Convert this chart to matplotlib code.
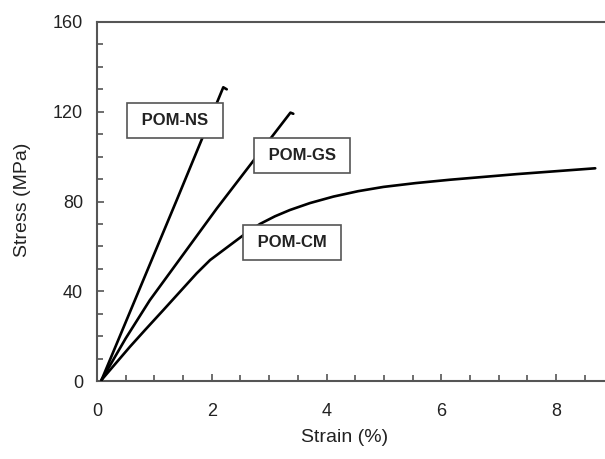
import matplotlib
matplotlib.use("Agg")
import matplotlib.pyplot as plt
from matplotlib.ticker import MultipleLocator

plt.rcParams['font.family'] = ['Liberation Sans', 'DejaVu Sans']

ns_x = [0.08, 1.39, 2.20, 2.26]
ns_y = [0.5, 80.7, 130.9, 130.0]

gs_x = [0.08, 0.50, 0.92, 2.09, 2.75, 3.37, 3.42]
gs_y = [0.5, 19.0, 36.0, 77.0, 99.0, 119.6, 119.1]

cm_x = [0.08, 0.575, 0.836, 1.155, 1.446, 1.737, 1.97, 2.085, 2.32, 2.55, 2.84, 3.10,
        3.36, 3.71, 4.12, 4.55, 4.99, 5.55, 6.15, 7.31, 8.68]
cm_y = [0.5, 15.3, 22.7, 31.6, 39.8, 48.0, 53.9, 56.1, 60.6, 65.0, 70.0, 73.4,
        76.2, 79.3, 82.2, 84.6, 86.5, 88.2, 89.7, 92.2, 94.8]

labels = ["POM-NS", "POM-GS", "POM-CM"]
label_pos = [(1.36, 116.0), (3.57, 100.7), (3.40, 61.9)]

W, H = 605, 459
fig = plt.figure(figsize=(W / 100, H / 100), dpi=100)
ax = fig.add_axes([97 / W, 78 / H, 508 / W, 359 / H])

for xs, ys in [(ns_x, ns_y), (gs_x, gs_y), (cm_x, cm_y)]:
    ax.plot(xs, ys, color='black', lw=1.9, solid_capstyle='round',
            solid_joinstyle='round', zorder=3)

for lab, (lx, ly) in zip(labels, label_pos):
    ax.text(lx, ly, " " + lab + " ", ha='center', va='center', fontsize=12,
            fontweight='bold', color='#222222', zorder=5,
            bbox=dict(boxstyle='square,pad=0.6', fc='white', ec='#555555', lw=1.2))

ax.set_xlim(0, 508 / 57.4)
ax.set_ylim(0, 160)
ax.xaxis.set_major_locator(MultipleLocator(2))
ax.xaxis.set_minor_locator(MultipleLocator(0.5))
ax.yaxis.set_major_locator(MultipleLocator(40))
ax.yaxis.set_minor_locator(MultipleLocator(10))

for s in ax.spines.values():
    s.set_color('#555555')
    s.set_linewidth(1.5)
ax.spines['right'].set_visible(False)

ax.tick_params(which='both', direction='in', colors='#555555', labelcolor='#222222',
               labelsize=13, width=1.2, top=False, right=False)
ax.tick_params(axis='x', which='both', pad=16)
ax.tick_params(axis='y', which='both', pad=10)
ax.tick_params(which='major', length=5)
ax.tick_params(which='minor', length=4)

ax.set_xlabel("Strain (%)", fontsize=14, color='#222222')
ax.set_ylabel("Stress (MPa)", fontsize=14, color='#222222')
ax.xaxis.set_label_coords((345 - 97) / 508, -(429 - 381) / 359)
ax.yaxis.set_label_coords(-(97 - 31) / 508, (381 - 200) / 359)

fig.savefig("out.png", dpi=100)
